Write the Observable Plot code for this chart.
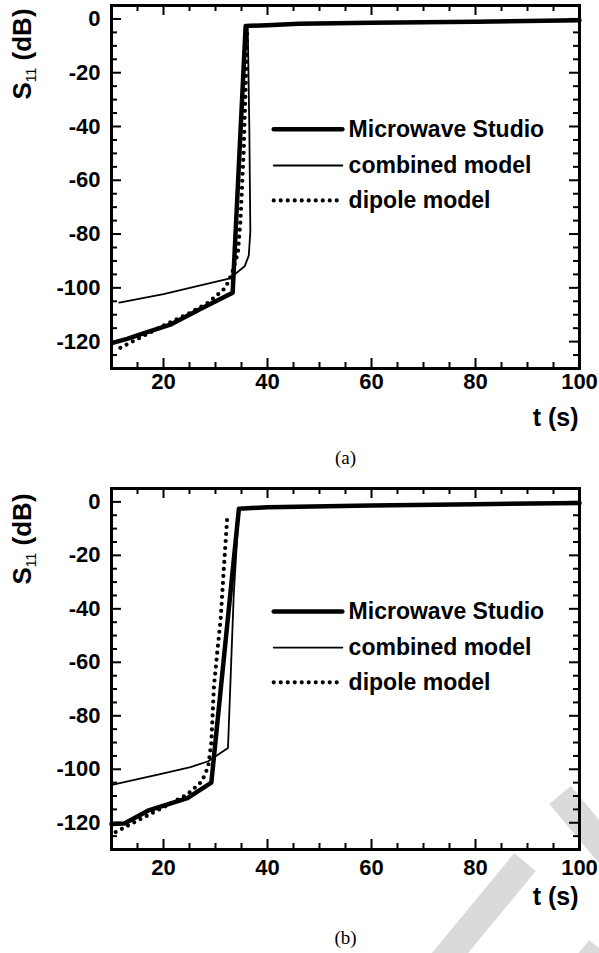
<!DOCTYPE html>
<html><head><meta charset="utf-8">
<script src="https://cdn.jsdelivr.net/npm/d3@7"></script>
<script src="https://cdn.jsdelivr.net/npm/@observablehq/plot@0.6"></script>
<style>
body{margin:0;background:#fff;width:599px;height:953px;overflow:hidden;position:relative}
#wrap{position:absolute;left:0;top:0;z-index:1}
.wm{position:absolute;background:#dadada;z-index:0}
svg{display:block;overflow:visible}
</style></head><body>
<div class="wm" style="left:325px;top:848px;width:200px;height:28px;transform-origin:100% 50%;transform:rotate(-50.5deg)"></div>
<div class="wm" style="left:560px;top:781px;width:120px;height:28px;transform-origin:0% 50%;transform:rotate(50deg)"></div>
<div class="wm" style="left:480px;top:935px;width:120px;height:28px;transform-origin:100% 50%;transform:rotate(-50.5deg)"></div>
<div id="wrap"></div>
<script>
// ---------- data : panel (a) ----------
const aMwsT  = [10.2, 13, 16, 21.3, 27, 33.3, 35.8, 40, 46, 60, 80, 100];
const aMwsDb = [-120.5, -119, -117, -113.7, -108, -101.8, -2.6, -2.3, -1.8, -1.4, -1.0, -0.5];
const aCombT  = [11.5, 20, 32.6, 34.2, 35.6, 36.4, 36.7, 36.5, 36.2, 37, 40, 46, 60, 80, 100];
const aCombDb = [-105.5, -102.3, -96.6, -94.2, -92, -88, -79, -40, -3, -2.5, -2.3, -1.8, -1.4, -1.0, -0.5];
const aDipT  = [11.7, 16.2, 21, 25.2, 28.7, 31.9, 33.2, 34.3, 34.8, 35.4, 35.8, 36.1];
const aDipDb = [-122.3, -117.8, -113.1, -109.2, -105.4, -100, -94.6, -87, -75, -50, -25, -4.3];
// ---------- data : panel (b) ----------
const bMwsT  = [10, 12.5, 17, 24.6, 29.2, 34.5, 40, 60, 80, 100];
const bMwsDb = [-120.5, -120.3, -115.5, -110.8, -105, -2.6, -2.0, -1.4, -0.9, -0.4];
const bCombT  = [10.3, 20, 25.2, 28.6, 32.4, 33.5, 34.5, 40, 60, 80, 100];
const bCombDb = [-105.7, -101.5, -99.2, -97, -92, -35, -2.6, -2.0, -1.4, -0.9, -0.4];
const bDipT  = [10.8, 15.3, 20.7, 24.6, 27.4, 28.6, 29.2, 29.7, 30.4, 31.0, 31.6, 32.3];
const bDipDb = [-123.5, -118.9, -113.5, -109.4, -104.5, -99, -90, -69, -55, -43.7, -25, -4.5];
// ---------- axes / legend text ----------
const xMajor = [20, 40, 60, 80, 100];
const yMajor = [0, -20, -40, -60, -80, -100, -120];
const seriesNames = ["Microwave Studio", "combined model", "dipole model"];
const xLabel = "t (s)";
const yLabel = "S11 (dB)";
const captions = ["(a)", "(b)"];

const FONT = "'Liberation Sans', Arial, Helvetica, sans-serif";
const xMinor = d3.range(15, 100, 5).filter(v => !xMajor.includes(v));
const yMinor = d3.range(-125, 5, 5).filter(v => !yMajor.includes(v));
const legendY = [-41, -54.5, -67.5];
const toPts = (T, D) => T.map((t, i) => ({t, db: D[i]}));

function panel({mws, comb, dip, height, mb, tickPad, xLabDy, capDy, yLabY, caption}) {
  const W = 599, ML = 111, MR = 20, MT = 5;
  const fw = W - ML - MR, fh = height - MT - mb;
  const legendLines = seriesNames.map((s, i) => [{t: 41.2, db: legendY[i]}, {t: i === 2 ? 53.7 : 54.4, db: legendY[i]}]);
  const styles = [
    {strokeWidth: 4.5},
    {strokeWidth: 1.8},
    {strokeWidth: 4.2, strokeDasharray: "0 7", strokeLinecap: "round"}
  ];
  const marks = [];
  [mws, comb, dip].forEach((d, i) => marks.push(Plot.line(d, {x: "t", y: "db", stroke: "black", strokeLinejoin: "round", ...styles[i]})));
  legendLines.forEach((d, i) => marks.push(Plot.line(d, {x: "t", y: "db", stroke: "black", ...styles[i]})));
  marks.push(Plot.text(seriesNames, {x: () => 55.6, y: (d, i) => legendY[i], textAnchor: "start", fontSize: 23, fontWeight: "bold"}));
  // inward ticks on all four sides
  const tk = (len) => ({strokeWidth: 2, stroke: "black"});
  marks.push(Plot.ruleX(xMajor, {x: d => d, insetTop: fh - 10, ...tk()}));
  marks.push(Plot.ruleX(xMajor, {x: d => d, insetBottom: fh - 10, ...tk()}));
  marks.push(Plot.ruleX(xMinor, {x: d => d, insetTop: fh - 6, ...tk()}));
  marks.push(Plot.ruleX(xMinor, {x: d => d, insetBottom: fh - 6, ...tk()}));
  marks.push(Plot.ruleY(yMajor, {y: d => d, insetRight: fw - 10, ...tk()}));
  marks.push(Plot.ruleY(yMajor, {y: d => d, insetLeft: fw - 10, ...tk()}));
  marks.push(Plot.ruleY(yMinor, {y: d => d, insetRight: fw - 6, ...tk()}));
  marks.push(Plot.ruleY(yMinor, {y: d => d, insetLeft: fw - 6, ...tk()}));
  marks.push(Plot.axisX(xMajor, {anchor: "bottom", tickSize: 0, tickPadding: tickPad, tickFormat: d => String(d), fontSize: 22, fontWeight: "bold", label: null}));
  marks.push(Plot.axisY(yMajor, {anchor: "left", tickSize: 0, tickPadding: 11, tickFormat: d => String(d), fontSize: 22, fontWeight: "bold", label: null}));
  marks.push(Plot.frame({stroke: "black", strokeWidth: 3}));
  marks.push(Plot.text([xLabel], {frameAnchor: "bottom-right", dx: -1, dy: xLabDy, textAnchor: "end", fontSize: 25, fontWeight: "bold"}));
  marks.push(Plot.text([caption], {frameAnchor: "bottom", dy: capDy, fontSize: 19, fontWeight: "normal", fontFamily: "'Liberation Serif', 'Times New Roman', serif"}));
  marks.push(Plot.text([yLabel], {frameAnchor: "top-left", fontSize: 26, fontWeight: "bold", textAnchor: "middle", className: "ylab"}));
  const chart = Plot.plot({
    width: W, height,
    marginLeft: ML, marginRight: MR, marginTop: MT, marginBottom: mb,
    x: {domain: [10, 100], label: null},
    y: {domain: [-130, 5], label: null},
    style: {fontFamily: FONT, background: "none", color: "black", overflow: "visible"},
    marks
  });
  // rotated y label with subscript
  const g = d3.select(chart).select("g.ylab");
  g.attr("transform", null);
  const t = g.select("text");
  t.attr("transform", `translate(22,${yLabY}) rotate(-90)`).attr("x", null).attr("y", 9).attr("dy", null).attr("text-anchor", "middle");
  t.text(null);
  t.append("tspan").text("S");
  t.append("tspan").attr("font-size", 14).attr("font-weight", "normal").attr("dy", 5).text("11");
  t.append("tspan").attr("dy", -5).text(" (dB)");
  return chart;
}

const wrap = document.getElementById("wrap");
wrap.append(panel({
  mws: toPts(aMwsT, aMwsDb), comb: toPts(aCombT, aCombDb), dip: toPts(aDipT, aDipDb),
  height: 483, mb: 115, tickPad: 5, xLabDy: 57, capDy: 95, yLabY: 54, caption: captions[0]
}));
wrap.append(panel({
  mws: toPts(bMwsT, bMwsDb), comb: toPts(bCombT, bCombDb), dip: toPts(bDipT, bDipDb),
  height: 470, mb: 104, tickPad: 10, xLabDy: 55, capDy: 94, yLabY: 56, caption: captions[1]
}));
</script>
</body></html>
